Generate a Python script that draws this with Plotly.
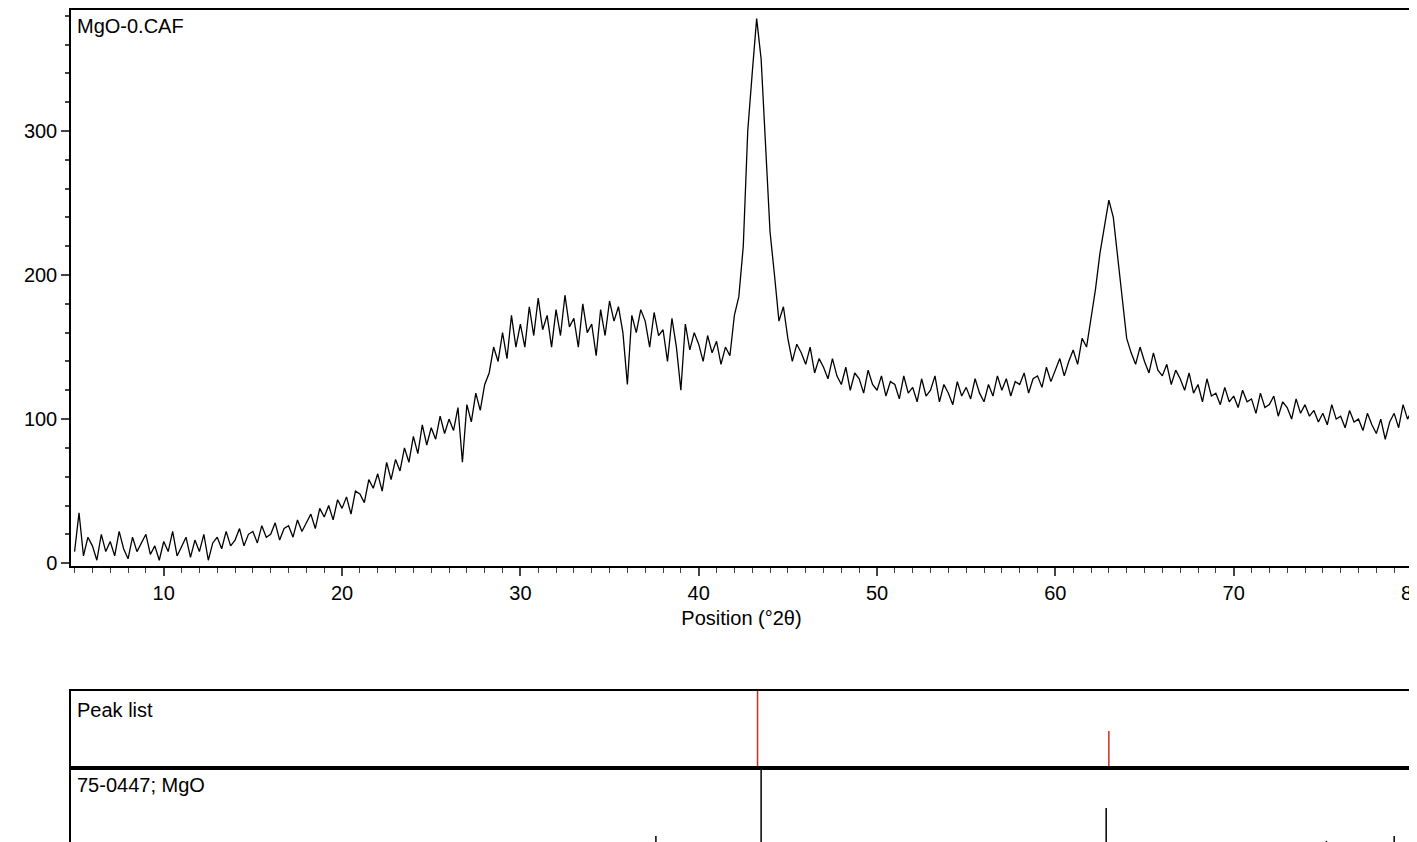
import numpy as np
import plotly.graph_objects as go

# XRD pattern, counts every 0.25 deg from 5 to 80
counts = [
    8, 35, 5, 18,  12, 2, 20, 8,  15, 5, 22, 10,  3, 18, 8, 14,  20, 6, 12, 2,
    15, 8, 22, 5,  12, 18, 4, 16,  8, 20, 2, 14,  18, 10, 22, 12,  16, 24, 12, 20,
    22, 14, 26, 18,  20, 28, 16, 24,  26, 18, 30, 22,  28, 34, 24, 38,  32, 40, 30, 44,
    38, 46, 34, 50,  48, 42, 58, 52,  62, 50, 70, 58,  72, 64, 80, 70,  88, 76, 96, 82,
    94, 86, 102, 90,  100, 92, 108, 70,  110, 98, 118, 106,  124, 132, 150, 140,  160, 142, 172, 150,
    166, 150, 178, 158,  184, 162, 172, 150,  176, 158, 186, 164,  170, 150, 180, 160,  166, 144, 176, 158,
    182, 168, 178, 160,  124, 172, 160, 176,  168, 150, 174, 158,  162, 140, 170, 150,  120, 166, 148, 160,
    152, 140, 158, 146,  154, 138, 150, 144,  172, 185, 220, 300,  340, 378, 350, 290,  230, 200, 168, 178,
    156, 140, 152, 146,  138, 150, 132, 142,  136, 128, 142, 130,  124, 136, 120, 132,  128, 118, 134, 124,
    120, 130, 116, 126,  124, 114, 130, 118,  122, 112, 128, 116,  120, 130, 112, 124,  118, 110, 126, 116,
    122, 114, 128, 118,  112, 124, 116, 130,  120, 128, 116, 126,  124, 132, 118, 128,  130, 122, 136, 126,
    134, 142, 130, 140,  148, 138, 156, 150,  170, 190, 215, 235,  252, 240, 212, 180,  156, 146, 138, 150,
    140, 132, 146, 134,  130, 138, 124, 134,  128, 120, 132, 118,  124, 112, 128, 116,  118, 110, 122, 112,
    116, 108, 120, 112,  114, 104, 118, 108,  110, 116, 102, 112,  108, 100, 114, 104,  110, 102, 106, 98,
    104, 96, 110, 100,  102, 94, 106, 98,  100, 92, 104, 96,  90, 100, 86, 98,  104, 94, 110, 100,
    106,
]
positions = 5 + 0.25 * np.arange(len(counts))

peak_pos = [43.3, 63.0]
peak_rel = [100, 48]
ref_pos = [37.6, 43.5, 62.85, 75.2, 79.0]
ref_rel = [15, 100, 50, 9, 15]


def sticks(xs, hs):
    xx, yy = [], []
    for x, h in zip(xs, hs):
        xx += [x, x, None]
        yy += [0, h, None]
    return xx, yy


fig = go.Figure()
fig.add_trace(go.Scatter(x=positions, y=counts, mode='lines',
                         line=dict(color='black', width=1.3), showlegend=False))
px_, py_ = sticks(peak_pos, peak_rel)
fig.add_trace(go.Scatter(x=px_, y=py_, mode='lines', line=dict(color='#d42a1a', width=1.5),
                         xaxis='x2', yaxis='y2', showlegend=False))
rx_, ry_ = sticks(ref_pos, ref_rel)
fig.add_trace(go.Scatter(x=rx_, y=ry_, mode='lines', line=dict(color='black', width=1.5),
                         xaxis='x3', yaxis='y3', showlegend=False))

font = dict(family='Liberation Sans, Arial', size=20, color='black')
xr = [4.8, 80]
box = dict(showline=True, linecolor='black', linewidth=1.5, mirror=True, showgrid=False,
           zeroline=False, automargin=False)
xd = [63 / 1417, 1404 / 1417]

fig.update_layout(
    width=1417, height=842, margin=dict(l=0, r=0, t=0, b=0, autoexpand=False),
    plot_bgcolor='white', paper_bgcolor='white', font=font,
    xaxis=dict(domain=xd, range=xr, anchor='y', ticks='outside', tickvals=list(range(10, 81, 10)),
               ticklen=8, tickwidth=1.5, minor=dict(dtick=1, ticks='outside', ticklen=5, tickwidth=1),
               title=dict(text='Position (°2θ)', font=font, standoff=8), **box),
    yaxis=dict(domain=[1 - 558 / 842, 1 - 2 / 842], range=[-2, 384], anchor='x', ticks='outside',
               tickvals=[0, 100, 200, 300], ticklen=8, tickwidth=1.5,
               minor=dict(dtick=20, ticks='outside', ticklen=4), **box),
    xaxis2=dict(domain=xd, range=xr, anchor='y2', showticklabels=False, ticks='', **box),
    yaxis2=dict(domain=[1 - 760 / 842, 1 - 683 / 842], range=[0, 100], anchor='x2',
                showticklabels=False, ticks='', **box),
    xaxis3=dict(domain=xd, range=xr, anchor='y3', showticklabels=False, ticks='', **box),
    yaxis3=dict(domain=[1 - 840 / 842, 1 - 760 / 842], range=[0, 100], anchor='x3',
                showticklabels=False, ticks='', **box),
    annotations=[
        dict(text='MgO-0.CAF', x=0.003, y=0.995, xref='x domain', yref='y domain',
             xanchor='left', yanchor='top', showarrow=False, font=font),
        dict(text='Peak list', x=0.003, y=0.92, xref='x2 domain', yref='y2 domain',
             xanchor='left', yanchor='top', showarrow=False, font=font),
        dict(text='75-0447; MgO', x=0.003, y=0.95, xref='x3 domain', yref='y3 domain',
             xanchor='left', yanchor='top', showarrow=False, font=font),
    ],
)

fig.write_html("out.html")
